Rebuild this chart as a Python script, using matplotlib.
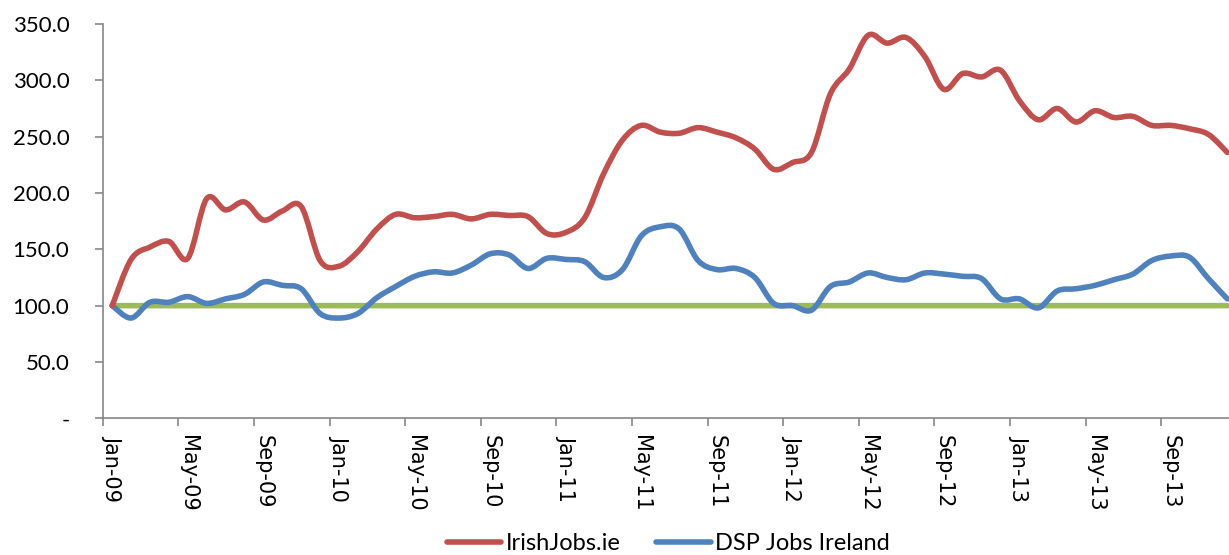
import numpy as np
import matplotlib.pyplot as plt
from matplotlib.path import Path
from matplotlib.patches import PathPatch
from matplotlib.lines import Line2D
from matplotlib.ticker import FuncFormatter

plt.rcParams['font.family'] = ['Lato', 'DejaVu Sans']

months = ['Jan', 'Feb', 'Mar', 'Apr', 'May', 'Jun',
          'Jul', 'Aug', 'Sep', 'Oct', 'Nov', 'Dec']
years = ['09', '10', '11', '12', '13']
labels = [m + '-' + y for y in years for m in months]

irishjobs = [100, 141, 152, 157, 142, 195, 185, 192, 176, 184, 188, 140,
             135, 148, 168, 181, 178, 179, 181, 177, 181, 180, 179, 164,
             165, 178, 217, 247, 260, 254, 253, 258, 254, 249, 239, 221,
             227, 236, 288, 310, 340, 333, 338, 321, 292, 306, 303, 309,
             282, 265, 275, 263, 273, 267, 268, 260, 260, 257, 252, 236]

dsp = [100, 89, 103, 103, 108, 102, 106, 110, 121, 118, 115, 93,
       89, 93, 107, 117, 126, 130, 129, 136, 146, 145, 133, 142,
       141, 139, 125, 132, 162, 170, 168, 140, 132, 133, 125, 102,
       100, 96, 117, 121, 129, 125, 123, 129, 128, 126, 124, 106,
       106, 98, 113, 115, 118, 123, 128, 140, 144, 143, 124, 106]

baseline = [100] * 60

RED = '#C0504D'
BLUE = '#4F81BD'
GREEN = '#9BBB59'
LW = 4.0


def smooth_path(xs, ys):
    # excel style smoothed line: cubic bezier through every point
    xs = np.asarray(xs, float)
    ys = np.asarray(ys, float)
    n = len(xs)
    verts = [(xs[0], ys[0])]
    codes = [Path.MOVETO]
    for i in range(n - 1):
        p0 = np.array([xs[max(i - 1, 0)], ys[max(i - 1, 0)]])
        p1 = np.array([xs[i], ys[i]])
        p2 = np.array([xs[i + 1], ys[i + 1]])
        p3 = np.array([xs[min(i + 2, n - 1)], ys[min(i + 2, n - 1)]])
        c1 = p1 + (p2 - p0) / 6.0
        c2 = p2 - (p3 - p1) / 6.0
        verts += [tuple(c1), tuple(c2), tuple(p2)]
        codes += [Path.CURVE4] * 3
    return Path(verts, codes)


fig = plt.figure(figsize=(12.29, 5.55), dpi=100)
ax = fig.add_axes([0.0836, 0.2463, 0.9227, 0.7105])

x = np.arange(len(labels))
for vals, col, z in [(baseline, GREEN, 2), (dsp, BLUE, 3), (irishjobs, RED, 4)]:
    ax.add_patch(PathPatch(smooth_path(x, vals), fill=False, edgecolor=col,
                           lw=LW, capstyle='round', joinstyle='round', zorder=z))

ax.set_xlim(-0.5, len(labels) - 0.5)
ax.set_ylim(0, 350)
ax.set_yticks(np.arange(0, 351, 50))
ax.yaxis.set_major_formatter(FuncFormatter(lambda v, p: '-' if v == 0 else '%.1f' % v))

ax.set_xticks(np.arange(-0.5, len(labels), 4))
ax.set_xticklabels([])
ax.set_xticks(x[::4], minor=True)
ax.set_xticklabels(labels[::4], minor=True, rotation=270, fontsize=15,
                   family='DejaVu Sans')
ax.tick_params(axis='x', which='minor', length=0, pad=12)
ax.tick_params(axis='x', which='major', length=6, color='#868686', width=1.2)
ax.tick_params(axis='y', length=6, color='#868686', width=1.2, labelsize=16, pad=18)

for s in ['top', 'right']:
    ax.spines[s].set_visible(False)
for s in ['left', 'bottom']:
    ax.spines[s].set_color('#868686')
    ax.spines[s].set_linewidth(1.2)

handles = [Line2D([], [], color=RED, lw=LW, solid_capstyle='round'),
           Line2D([], [], color=BLUE, lw=LW, solid_capstyle='round')]
fig.legend(handles, ['IrishJobs.ie', 'DSP Jobs Ireland'], loc='center',
           bbox_to_anchor=(0.544, 0.02), ncol=2, frameon=False, fontsize=17,
           handlelength=2.3, handletextpad=0.2, columnspacing=1.5,
           borderaxespad=0, borderpad=0)

fig.savefig('out.png', dpi=100)
